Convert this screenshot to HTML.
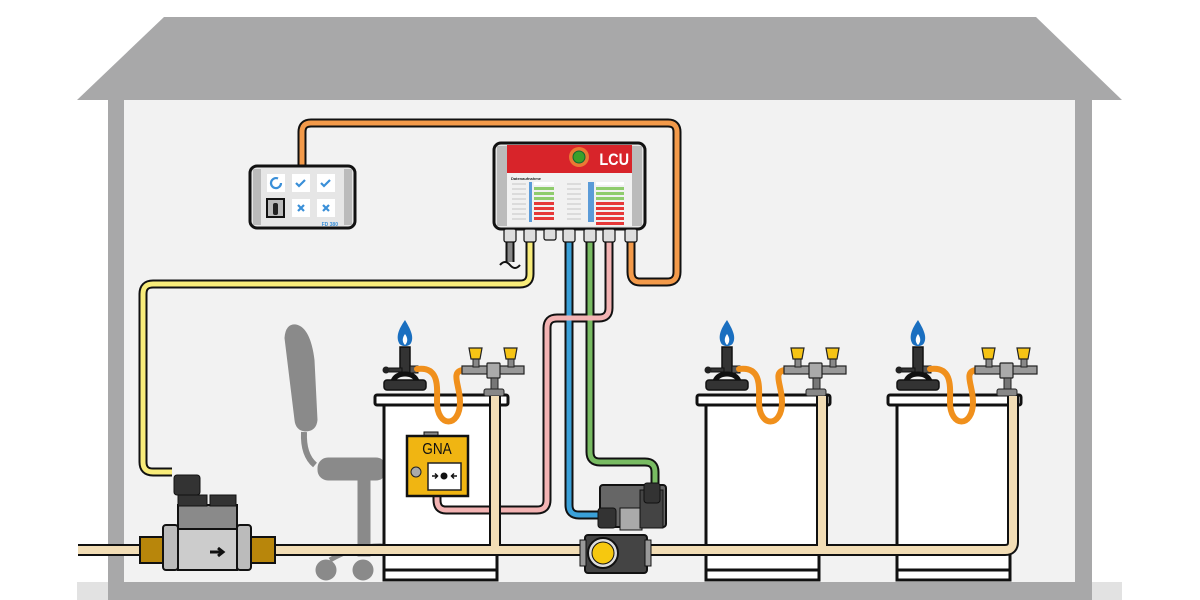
<!DOCTYPE html>
<html><head><meta charset="utf-8"><style>html,body{margin:0;padding:0;background:#fff}svg{display:block}</style></head>
<body>
<svg width="1200" height="600" viewBox="0 0 1200 600" xmlns="http://www.w3.org/2000/svg" font-family="Liberation Sans, sans-serif">
<defs>
<g id="tbl">
  <rect x="384" y="403" width="113" height="177" fill="#fff" stroke="#111" stroke-width="3"/>
  <line x1="384" y1="570" x2="497" y2="570" stroke="#111" stroke-width="3"/>
  <rect x="375" y="395" width="133" height="10" rx="2" fill="#fff" stroke="#111" stroke-width="3"/>
  <path d="M405 320 C398 330 396 337 399 343 C401 347 409 347 411 343 C414 337 411 330 405 320 Z" fill="#1a6fc0"/>
  <path d="M405 334 C402 338 402 342 405 345 C408 342 408 338 405 334Z" fill="#fff"/>
  <rect x="400" y="347" width="10" height="26" fill="#333" stroke="#111" stroke-width="1.5"/>
  <rect x="386" y="368" width="16" height="4" fill="#333" stroke="#111"/>
  <circle cx="386" cy="370" r="3.5" fill="#222"/>
  <rect x="410" y="366" width="8" height="7" fill="#555" stroke="#111"/>
  <path d="M393 381 Q396 374 405 374 Q414 374 417 381" fill="none" stroke="#111" stroke-width="5"/>
  <rect x="384" y="380" width="42" height="10" rx="3" fill="#333" stroke="#111" stroke-width="1.5"/>
  <path d="M417 369 C440 366 437 388 437 402 C437 428 460 428 460 402 C460 385 450 372 463 370" fill="none" stroke="#f0901c" stroke-width="6" stroke-linecap="round"/>
  <rect x="462" y="366" width="62" height="8" fill="#999" stroke="#222" stroke-width="1.2"/>
  <rect x="487" y="363" width="13" height="15" rx="1" fill="#aaa" stroke="#222" stroke-width="1.2"/>
  <rect x="491" y="378" width="7" height="13" fill="#777" stroke="#222"/>
  <rect x="484" y="389" width="20" height="7" rx="2" fill="#888" stroke="#222"/>
  <rect x="473" y="359" width="6" height="8" fill="#888" stroke="#222"/>
  <rect x="508" y="359" width="6" height="8" fill="#888" stroke="#222"/>
  <path d="M469 348 h13 l-2 11 h-9 z" fill="#f6c415" stroke="#222" stroke-width="1.2"/>
  <path d="M504 348 h13 l-2 11 h-9 z" fill="#f6c415" stroke="#222" stroke-width="1.2"/>
</g>
</defs>
<polygon points="164,17 1036,17 1122,100 77,100" fill="#a8a8a9"/>
<rect x="108" y="100" width="984" height="500" fill="#a8a8a9"/>
<rect x="124" y="100" width="951" height="482" fill="#f2f2f2"/>
<rect x="1092" y="582" width="30" height="18" fill="#e2e2e2"/>
<rect x="77" y="582" width="31" height="18" fill="#e2e2e2"/>

<g fill="#8a8a8a" stroke="#8a8a8a">
  <path d="M285 338 Q286 324 296 325 Q310 328 314 360 L317 420 Q316 431 305 431 Q296 430 295 420 Z"/>
  <path d="M304 432 Q303 455 315 465" fill="none" stroke-width="6"/>
  <rect x="318" y="458" width="68" height="22" rx="10"/>
  <rect x="358" y="478" width="12" height="78"/>
  <path d="M330 560 Q355 545 384 546" fill="none" stroke-width="5"/>
  <circle cx="326" cy="570" r="10"/>
  <circle cx="363" cy="570" r="10"/>
</g>

<use href="#tbl"/>
<use href="#tbl" transform="translate(322,0)"/>
<use href="#tbl" transform="translate(513,0)"/>

<g fill="none" stroke-linejoin="round" stroke-linecap="butt">
  <g stroke="#111" stroke-width="9">
    <path d="M302 166 V132 Q302 123 311 123 H668 Q677 123 677 132 V272 Q677 282 667 282 H640 Q631 282 631 272 V240"/>
    <path d="M530 240 V274 Q530 284 520 284 H153 Q143 284 143 294 V462 Q143 472 153 472 H172"/>
    <path d="M569 240 V505 Q569 515 579 515 H602"/>
    <path d="M590 240 V452 Q590 462 600 462 H645 Q655 462 655 472 V488"/>
    <path d="M609 240 V308 Q609 318 599 318 H557 Q547 318 547 328 V500 Q547 510 537 510 H446 Q437 510 437 500 V494"/>
    <path d="M510 240 V262"/>
  </g>
  <g stroke-width="5">
    <path d="M302 166 V132 Q302 123 311 123 H668 Q677 123 677 132 V272 Q677 282 667 282 H640 Q631 282 631 272 V240" stroke="#f39a4a"/>
    <path d="M530 240 V274 Q530 284 520 284 H153 Q143 284 143 294 V462 Q143 472 153 472 H172" stroke="#f8ec7a"/>
    <path d="M569 240 V505 Q569 515 579 515 H602" stroke="#3aa0d8"/>
    <path d="M590 240 V452 Q590 462 600 462 H645 Q655 462 655 472 V488" stroke="#78bb62"/>
    <path d="M609 240 V308 Q609 318 599 318 H557 Q547 318 547 328 V500 Q547 510 537 510 H446 Q437 510 437 500 V494" stroke="#f3b3b3"/>
    <path d="M510 240 V262" stroke="#888"/>
  </g>
  <path d="M500 265 q5 -6 10 0 t10 0" stroke="#111" stroke-width="2"/>
</g>

<g fill="none" stroke-linejoin="round">
  <path d="M78 550 H1005 Q1013 550 1013 542 V396 M495 550 V396 M822 550 V396" stroke="#111" stroke-width="12"/>
  <path d="M78 550 H1005 Q1013 550 1013 542 V396 M495 550 V396 M822 550 V396" stroke="#f2ddb5" stroke-width="8"/>
</g>

<rect x="250" y="166" width="105" height="62" rx="7" fill="#e6e6e6" stroke="#111" stroke-width="3"/>
<rect x="253" y="169" width="8" height="56" fill="#bbb"/>
<rect x="344" y="169" width="8" height="56" fill="#bbb"/>
<g fill="#fff"><rect x="267" y="174" width="18" height="18"/><rect x="292" y="174" width="18" height="18"/><rect x="317" y="174" width="18" height="18"/><rect x="292" y="199" width="18" height="18"/><rect x="317" y="199" width="18" height="18"/></g>
<g fill="none" stroke="#3a8fd8" stroke-width="2.2"><path d="M281 183 a5 5 0 1 1 -3 -4.5"/><path d="M296 183 l3 3 l6 -6"/><path d="M321 183 l3 3 l6 -6"/><path d="M298 205 l6 6 M304 205 l-6 6"/><path d="M323 205 l6 6 M329 205 l-6 6"/></g>
<rect x="267" y="199" width="17" height="18" fill="#bbb" stroke="#111" stroke-width="2"/>
<rect x="273" y="203" width="5" height="12" rx="2" fill="#222"/>
<text x="338" y="226" font-size="5" fill="#3a8fd8" font-weight="bold" text-anchor="end">FD 380</text>

<rect x="494" y="143" width="151" height="86" rx="7" fill="#e6e6e6" stroke="#111" stroke-width="3"/>
<rect x="497" y="146" width="10" height="80" fill="#bbb"/>
<rect x="632" y="146" width="10" height="80" fill="#bbb"/>
<rect x="507" y="145" width="125" height="28" fill="#d8242a"/>
<circle cx="579" cy="157" r="10" fill="#f7b23a" opacity="0.6"/>
<circle cx="579" cy="157" r="6" fill="#3aa02a" stroke="#163" stroke-width="1"/>
<text x="629" y="165" font-size="17" font-weight="bold" fill="#fff" text-anchor="end" transform="translate(629,0) scale(0.85,1) translate(-629,0)">LCU</text>
<rect x="507" y="173" width="125" height="53" fill="#f1f1f1"/>
<text x="511" y="180" font-size="4" font-weight="bold" fill="#222">Datenaufnahme</text>
<g stroke="#999" stroke-width="0.6"><path d="M512 184h14M512 189h14M512 194h14M512 199h14M512 204h14M512 209h14M512 214h14M512 219h14M567 184h14M567 189h14M567 194h14M567 199h14M567 204h14M567 209h14M567 214h14M567 219h14"/></g>
<g fill="#5b9bd8"><rect x="529" y="182" width="3" height="40"/><rect x="588" y="182" width="6" height="40"/></g>
<rect x="534" y="182" width="20" height="3" fill="#fff"/><rect x="596" y="182" width="28" height="3" fill="#fff"/>
<g fill="#8fcc6c"><rect x="534" y="187" width="20" height="3"/><rect x="534" y="192" width="20" height="3"/><rect x="534" y="197" width="20" height="3"/><rect x="596" y="187" width="28" height="3"/><rect x="596" y="192" width="28" height="3"/><rect x="596" y="197" width="28" height="3"/></g>
<g fill="#e63838"><rect x="534" y="202" width="20" height="3"/><rect x="534" y="207" width="20" height="3"/><rect x="534" y="212" width="20" height="3"/><rect x="534" y="217" width="20" height="3"/><rect x="596" y="202" width="28" height="3"/><rect x="596" y="207" width="28" height="3"/><rect x="596" y="212" width="28" height="3"/><rect x="596" y="217" width="28" height="3"/><rect x="596" y="222" width="28" height="3"/></g>
<g fill="#ddd" stroke="#111" stroke-width="1.2">
  <rect x="504" y="229" width="12" height="13" rx="2"/><rect x="524" y="229" width="12" height="13" rx="2"/><rect x="544" y="229" width="12" height="11" rx="2"/><rect x="563" y="229" width="12" height="13" rx="2"/><rect x="584" y="229" width="12" height="13" rx="2"/><rect x="603" y="229" width="12" height="13" rx="2"/><rect x="625" y="229" width="12" height="13" rx="2"/>
</g>

<rect x="424" y="432" width="14" height="5" fill="#888" stroke="#111"/>
<rect x="407" y="436" width="61" height="60" fill="#f0b512" stroke="#111" stroke-width="2.5"/>
<text x="437" y="454" font-size="16" text-anchor="middle" fill="#111" transform="translate(437,0) scale(0.85,1) translate(-437,0)">GNA</text>
<circle cx="416" cy="472" r="5" fill="#aaa" stroke="#222"/>
<rect x="428" y="463" width="33" height="27" fill="#fff" stroke="#222" stroke-width="1.5"/>
<circle cx="444" cy="476" r="3.5" fill="#111"/>
<path d="M432 476h5m-2-2.5l2.5 2.5-2.5 2.5M457 476h-5m2-2.5l-2.5 2.5 2.5 2.5" stroke="#111" stroke-width="1.5" fill="none"/>

<rect x="140" y="537" width="23" height="26" fill="#b8860b" stroke="#111" stroke-width="2"/>
<rect x="250" y="537" width="25" height="26" fill="#b8860b" stroke="#111" stroke-width="2"/>
<rect x="163" y="525" width="15" height="45" rx="3" fill="#bbb" stroke="#111" stroke-width="2"/>
<rect x="237" y="525" width="14" height="45" rx="3" fill="#bbb" stroke="#111" stroke-width="2"/>
<rect x="178" y="528" width="59" height="42" fill="#ccc" stroke="#111" stroke-width="2"/>
<rect x="178" y="505" width="59" height="24" fill="#8a8a8a" stroke="#111" stroke-width="2"/>
<rect x="178" y="495" width="29" height="11" fill="#333" stroke="#111"/>
<rect x="210" y="495" width="26" height="11" fill="#333" stroke="#111"/>
<rect x="174" y="475" width="26" height="20" rx="3" fill="#333" stroke="#111"/>
<path d="M210 552h12m-4-4l5 4-5 4" stroke="#111" stroke-width="3" fill="none"/>

<rect x="600" y="485" width="66" height="42" rx="3" fill="#666" stroke="#111" stroke-width="2"/>
<rect x="620" y="508" width="22" height="22" fill="#aaa" stroke="#111"/>
<rect x="640" y="490" width="23" height="38" fill="#444" stroke="#111"/>
<rect x="644" y="483" width="16" height="20" rx="3" fill="#333" stroke="#111"/>
<rect x="598" y="508" width="18" height="20" rx="3" fill="#333" stroke="#111"/>
<rect x="585" y="535" width="62" height="38" rx="3" fill="#444" stroke="#111" stroke-width="2"/>
<rect x="580" y="540" width="6" height="26" fill="#999" stroke="#111"/>
<rect x="645" y="540" width="6" height="26" fill="#999" stroke="#111"/>
<circle cx="603" cy="553" r="15" fill="#ddd" stroke="#111" stroke-width="2"/>
<circle cx="603" cy="553" r="11" fill="#f6c80f" stroke="#111"/>
</svg>
</body></html>
